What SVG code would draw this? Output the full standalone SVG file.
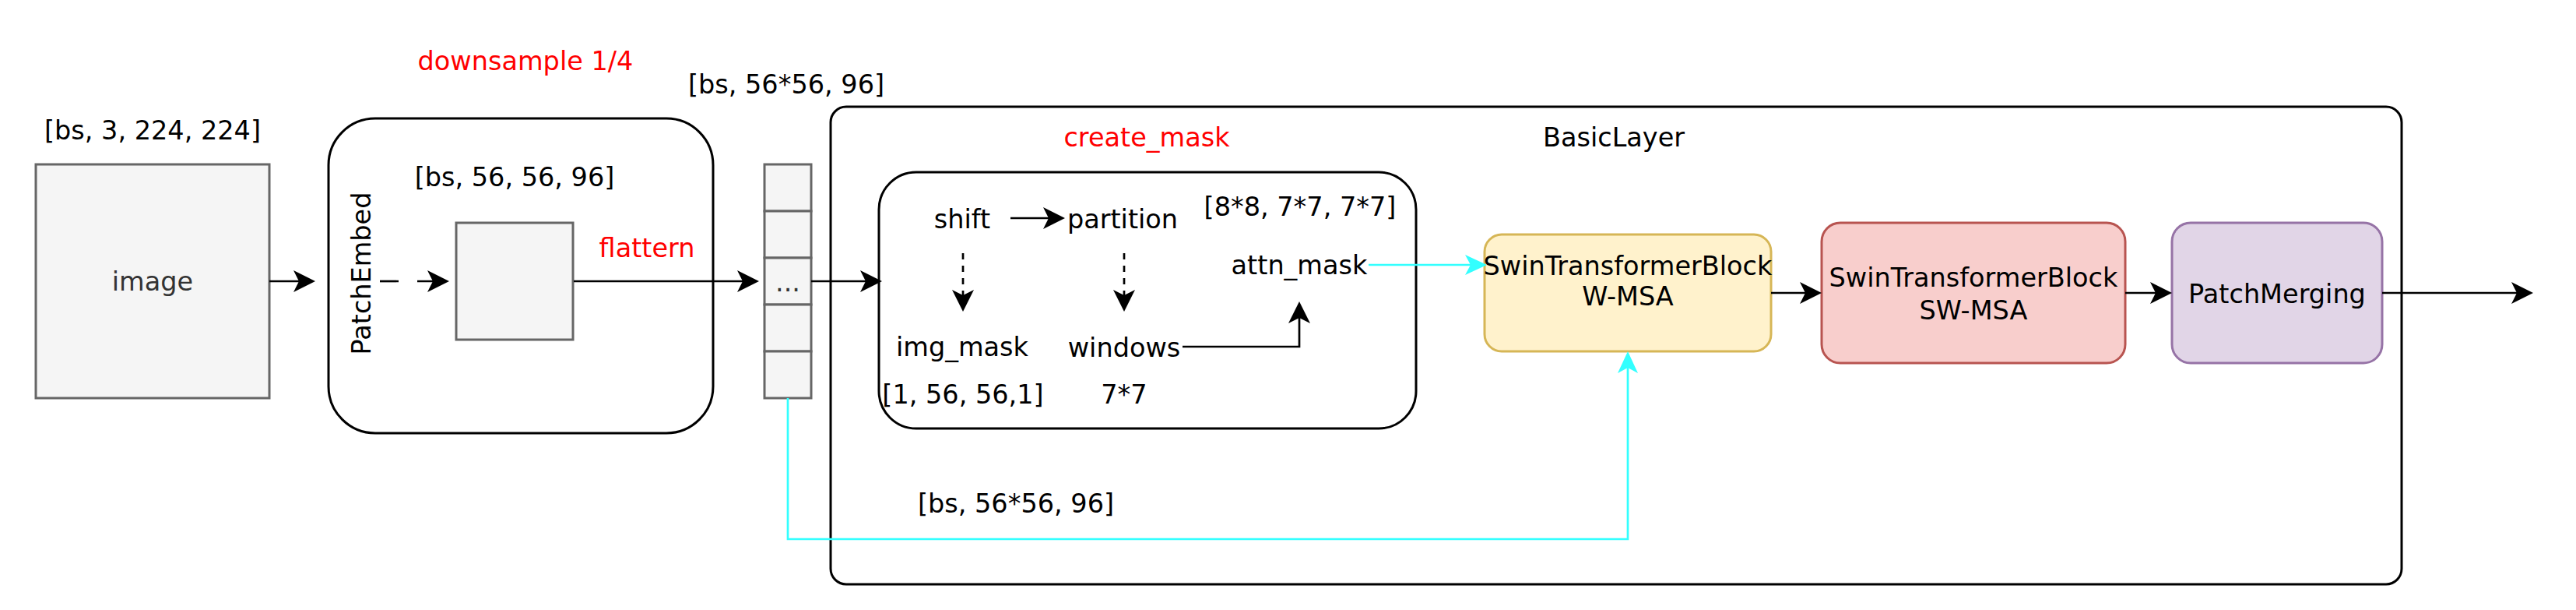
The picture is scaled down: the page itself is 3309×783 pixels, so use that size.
<svg xmlns="http://www.w3.org/2000/svg" width="3309" height="783" viewBox="0 0 3309 783">
<style>
text{font-family:"DejaVu Sans","Verdana",sans-serif;font-size:33.5px;fill:#000;text-anchor:middle}
.red{fill:#FF0000}
.gray{fill:#333333}
.box{fill:#f5f5f5;stroke:#666666;stroke-width:3}
.grp{fill:#ffffff;stroke:#000000;stroke-width:3}
.ln{fill:none;stroke:#000;stroke-width:2.7}
.cy{fill:none;stroke:#33FFFF;stroke-width:2.7}
</style>
<defs>
<marker id="ab" markerUnits="userSpaceOnUse" markerWidth="28" markerHeight="28" viewBox="0 0 28 28" refX="24" refY="14" orient="auto"><path d="M0,0 L28,14 L0,28 L7,14 Z" fill="#000"/></marker>
<marker id="ac" markerUnits="userSpaceOnUse" markerWidth="28" markerHeight="28" viewBox="0 0 28 28" refX="24" refY="14" orient="auto"><path d="M0,1 L28,14 L0,27 L7,14 Z" fill="#33FFFF"/></marker>
</defs>
<rect width="3309" height="783" fill="#ffffff"/>

<g id="basiclayer">
<rect class="grp" x="1067" y="137" width="2018" height="613" rx="20"/>
<text x="2073" y="188">BasicLayer</text>
</g>
<text class="red" x="1473" y="188">create_mask</text>

<g id="image">
<rect class="box" x="46" y="211" width="300" height="300"/>
<text class="gray" x="196" y="373">image</text>
</g>
<text x="196" y="179">[bs, 3, 224, 224]</text>

<g id="patchembed">
<rect class="grp" x="422" y="152" width="494" height="404" rx="60"/>
<text transform="translate(476,351) rotate(-90)" x="0" y="0">PatchEmbed</text>
</g>
<text class="red" x="675" y="90">downsample 1/4</text>

<g id="feature">
<rect class="box" x="586" y="286" width="150" height="150"/>
<text x="661" y="239">[bs, 56, 56, 96]</text>
</g>
<text class="red" x="831" y="330">flattern</text>

<g id="tokens">
<rect class="box" x="982" y="211" width="60" height="60"/>
<rect class="box" x="982" y="271" width="60" height="60"/>
<rect class="box" x="982" y="331" width="60" height="60"/>
<rect class="box" x="982" y="391" width="60" height="60"/>
<rect class="box" x="982" y="451" width="60" height="60"/>
<text class="gray" x="1012" y="374">...</text>
</g>
<text x="1010" y="120">[bs, 56*56, 96]</text>

<g id="createmask">
<rect class="grp" x="1129" y="221" width="690" height="329" rx="48"/>
</g>
<g id="shift"><text x="1236" y="293">shift</text></g>
<g id="partition"><text x="1442" y="293">partition</text></g>
<text x="1670" y="277">[8*8, 7*7, 7*7]</text>
<g id="attnmask"><text x="1669" y="352">attn_mask</text></g>
<g id="imgmask"><text x="1236" y="457">img_mask</text></g>
<g id="windows"><text x="1444" y="458">windows</text></g>
<text x="1237" y="518">[1, 56, 56,1]</text>
<text x="1444" y="518">7*7</text>

<g id="wmsa">
<rect x="1907" y="301" width="368" height="150" rx="22" fill="#fff2cc" stroke="#d6b656" stroke-width="3"/>
<text x="2091" y="353">SwinTransformerBlock</text>
<text x="2091" y="392">W-MSA</text>
</g>
<g id="swmsa">
<rect x="2340" y="286" width="390" height="180" rx="24" fill="#f8cecc" stroke="#b85450" stroke-width="3"/>
<text x="2535" y="368">SwinTransformerBlock</text>
<text x="2535" y="410">SW-MSA</text>
</g>
<g id="patchmerging">
<rect x="2790" y="286" width="270" height="180" rx="24" fill="#e1d5e7" stroke="#9673a6" stroke-width="3"/>
<text x="2925" y="389">PatchMerging</text>
</g>
<text x="1305" y="658">[bs, 56*56, 96]</text>

<g id="connectors">
<path class="ln" d="M346,361 H401" marker-end="url(#ab)"/>
<path class="ln" d="M488,361 H573" stroke-dasharray="24 24" marker-end="url(#ab)"/>
<path class="ln" d="M737,361 H971" marker-end="url(#ab)"/>
<path class="ln" d="M1042,361 H1129" marker-end="url(#ab)"/>
<path class="ln" d="M1298,280 H1364" marker-end="url(#ab)"/>
<path class="ln" d="M1237,325 V396" stroke-dasharray="8 8" marker-end="url(#ab)"/>
<path class="ln" d="M1444,325 V396" stroke-dasharray="8 8" marker-end="url(#ab)"/>
<path class="ln" d="M1519,445 H1669 V391" marker-end="url(#ab)"/>
<path class="cy" d="M1758,340 H1906" marker-end="url(#ac)"/>
<path class="cy" d="M1012,511 V692 H2091 V455" marker-end="url(#ac)"/>
<path class="ln" d="M2275,376 H2336" marker-end="url(#ab)"/>
<path class="ln" d="M2730,376 H2786" marker-end="url(#ab)"/>
<path class="ln" d="M3060,376 H3250" marker-end="url(#ab)"/>
</g>
</svg>
